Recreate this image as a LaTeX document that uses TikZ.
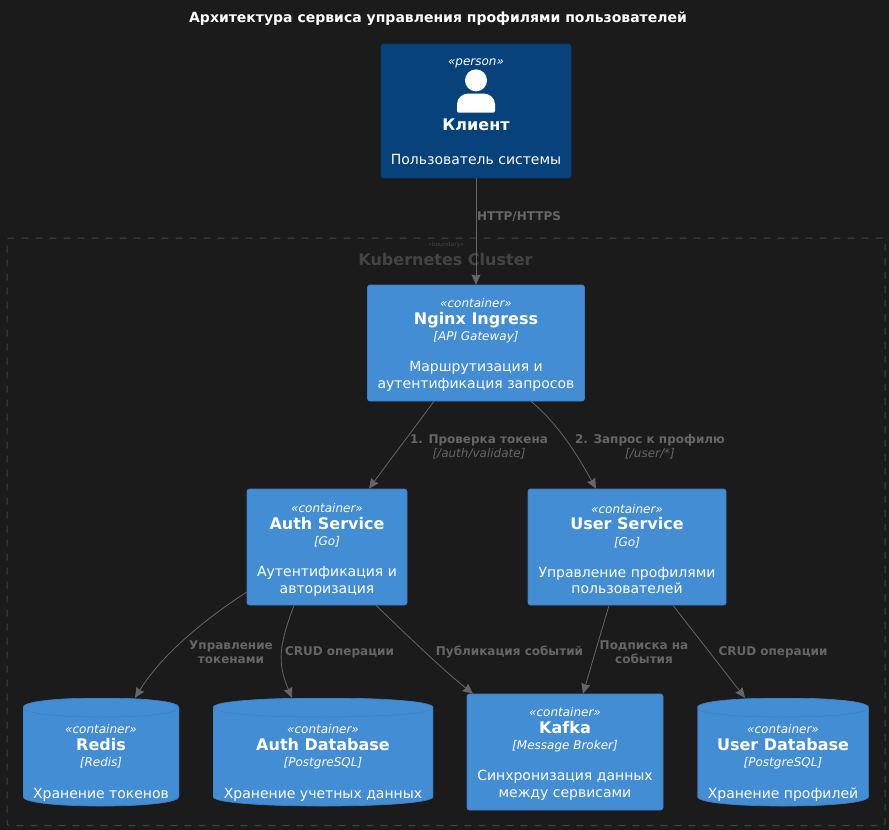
\documentclass[tikz,border=0pt]{standalone}
\usepackage{fontspec}
\setmainfont{DejaVu Sans}
\usetikzlibrary{arrows.meta,calc}
\definecolor{bgc}{HTML}{1B1B1B}
\definecolor{boxc}{HTML}{438DD5}
\definecolor{boxl}{HTML}{3C7FC0}
\definecolor{perc}{HTML}{08427B}
\definecolor{perl}{HTML}{073B6F}
\definecolor{linec}{HTML}{666666}
\definecolor{bndc}{HTML}{444444}
\newcommand{\cst}[1]{{\fontsize{12}{16.5}\selectfont\itshape #1}}
\newcommand{\cnm}[1]{{\fontsize{16}{16.5}\selectfont\bfseries #1}}
\newcommand{\lbb}[1]{{\fontsize{12}{14}\selectfont\bfseries #1}}
\newcommand{\lbi}[1]{{\fontsize{12}{14}\selectfont\itshape #1}}
\newcommand{\tpad}[1]{\rule{0pt}{#1pt}}
\tikzset{
  boxbase/.style={inner sep=0pt,text=white,align=center,font=\fontsize{14}{16.5}\selectfont},
  contbox/.style={boxbase,draw=boxl,fill=boxc,rounded corners=2.5pt,line width=.7pt},
  persbox/.style={boxbase,draw=perl,fill=perc,rounded corners=2.5pt,line width=.7pt},
  cylbox/.style={boxbase,path picture={
    \path (path picture bounding box.north west) coordinate (tl) (path picture bounding box.south east) coordinate (br);
    \fill[boxc,draw=boxl,line width=.7pt] let \p1=(tl),\p2=(br) in
      (\x1,\y1-9.5pt) .. controls (\x1,\y1-3pt) and (\x1+.25*\x2-.25*\x1,\y1) .. (.5*\x1+.5*\x2,\y1)
      .. controls (\x1+.75*\x2-.75*\x1,\y1) and (\x2,\y1-3pt) .. (\x2,\y1-9.5pt)
      -- (\x2,\y2+9.5pt) .. controls (\x2,\y2+3pt) and (\x1+.75*\x2-.75*\x1,\y2) .. (.5*\x1+.5*\x2,\y2)
      .. controls (\x1+.25*\x2-.25*\x1,\y2) and (\x1,\y2+3pt) .. (\x1,\y2+9.5pt) -- cycle;
    \draw[boxl,line width=.5pt] let \p1=(tl),\p2=(br) in
      (\x1,\y1-9.5pt) .. controls (\x1,\y1-16pt) and (\x1+.25*\x2-.25*\x1,\y1-19pt) .. (.5*\x1+.5*\x2,\y1-19pt)
      .. controls (\x1+.75*\x2-.75*\x1,\y1-19pt) and (\x2,\y1-16pt) .. (\x2,\y1-9.5pt);
  }},
  link/.style={draw=linec,line width=.8pt,-{Stealth[length=10pt,width=9pt,inset=1pt,fill=linec]}},
  rel/.style={inner sep=0pt,text=linec,align=center,font=\fontsize{12}{14}\selectfont},
  bnd/.style={draw=bndc,dash pattern=on 7pt off 7pt,line width=1pt,rounded corners=2.5pt,inner sep=0pt},
  ttl/.style={inner sep=0pt,text=white,font=\fontsize{14}{16}\selectfont\bfseries},
}
\begin{document}
\begin{tikzpicture}[x=1pt,y=-1pt]
\useasboundingbox[fill=bgc] (0,0) rectangle (889,830);

\node[ttl] (title) at (438,18.5) {Архитектура сервиса управления профилями пользователей};

\node[bnd,minimum width=878pt,minimum height=587.5pt] (cluster) at (446,531.75) {};
\node[inner sep=0pt,text=bndc,font=\fontsize{6}{7}\selectfont] (bstereo) at (446,244.5) {«boundary»};
\node[inner sep=0pt,text=bndc,font=\fontsize{16}{18}\selectfont\bfseries] (bname) at (445.5,260) {Kubernetes Cluster};

\node[persbox,minimum width=190pt,minimum height=134pt] (client) at (476,111) {\tpad{9}\cst{«person»}\\[48.5pt]\cnm{Клиент}\\[17.5pt]Пользователь системы};
\fill[white] ($(client.north)+(0,36.7)$) circle[radius=11pt];
\fill[white,rounded corners=1.5pt] ($(client.north)+(-19,69)$) -- ($(client.north)+(19,69)$) -- ($(client.north)+(19,62)$)
  .. controls ($(client.north)+(19,54)$) and ($(client.north)+(13,50)$) .. ($(client.north)+(7,50)$)
  -- ($(client.north)+(-7,50)$)
  .. controls ($(client.north)+(-13,50)$) and ($(client.north)+(-19,54)$) .. ($(client.north)+(-19,62)$) -- cycle;

\node[contbox,minimum width=217pt,minimum height=116pt] (nginx) at (476,343) {\tpad{13}\cst{«container»}\\\cnm{Nginx Ingress}\\\cst{[API Gateway]}\\[14.5pt]Маршрутизация и\\аутентификация запросов};
\node[contbox,minimum width=160pt,minimum height=116pt] (auth) at (327,547) {\tpad{15}\cst{«container»}\\\cnm{Auth Service}\\\cst{[Go]}\\[14.5pt]Аутентификация и\\авторизация};
\node[contbox,minimum width=198pt,minimum height=116pt] (user) at (627,547) {\tpad{13}\cst{«container»}\\\cnm{User Service}\\\cst{[Go]}\\[14.5pt]Управление профилями\\пользователей};
\node[contbox,minimum width=196pt,minimum height=116pt] (kafka) at (565,752) {\tpad{13}\cst{«container»}\\\cnm{Kafka}\\\cst{[Message Broker]}\\[14.5pt]Синхронизация данных\\между сервисами};
\node[cylbox,minimum width=156pt,minimum height=108pt] (redis) at (101,752) {\mbox{}\\[14.5pt]\cst{«container»}\\\cnm{Redis}\\\cst{[Redis]}\\[15.5pt]Хранение токенов};
\node[cylbox,minimum width=220pt,minimum height=108pt] (authdb) at (323,752) {\mbox{}\\[14.5pt]\cst{«container»}\\\cnm{Auth Database}\\\cst{[PostgreSQL]}\\[15.5pt]Хранение учетных данных};
\node[cylbox,minimum width=171pt,minimum height=108pt] (userdb) at (783,752) {\mbox{}\\[14.5pt]\cst{«container»}\\\cnm{User Database}\\\cst{[PostgreSQL]}\\[15.5pt]Хранение профилей};

\path[link] (client.south) -- (nginx.north);
\path[link] ($(nginx.south)+(-42,0)$) .. controls ($(nginx.south)+(-62,27)$) and ($(auth.north)+(64,-30)$) .. ($(auth.north)+(42,0)$);
\path[link] ($(nginx.south)+(55,0)$) .. controls ($(nginx.south)+(84,24)$) and ($(user.north)+(-47,-29)$) .. ($(user.north)+(-31,0)$);
\path[link] ($(auth.west)+(0,45)$) .. controls ($(auth.west)+(-35,68)$)  and ($(redis.north)+(64,-48)$) .. ($(redis.north)+(34,0)$);
\path[link] ($(auth.south)+(-33,0)$) .. controls ($(auth.south)+(-48,40)$) and ($(authdb.north)+(-46,-35)$) .. ($(authdb.north)+(-31,0)$);
\path[link] ($(auth.south)+(49,0)$) .. controls ($(auth.south)+(80,30)$) and ($(kafka.north)+(-120,-22)$) .. ($(kafka.north)+(-92,0)$);
\path[link] ($(user.south)+(-18,0)$) -- ($(kafka.north)+(18,0)$);
\path[link] ($(user.south)+(46,0)$) -- ($(userdb.north)+(-38,0)$);

\node[rel] (l0) at (519,217) {\lbb{HTTP/HTTPS}};
\node[rel] (l1) at (479,447) {\lbb{1. Проверка токена}\\\lbi{[/auth/validate]}};
\node[rel] (l2) at (650,447) {\lbb{2. Запрос к профилю}\\\lbi{[/user/*]}};
\node[rel] (l3) at (231,652) {\lbb{Управление}\\\lbb{токенами}};
\node[rel] (l4) at (339.5,652) {\lbb{CRUD операции}};
\node[rel] (l5) at (509.5,652) {\lbb{Публикация событий}};
\node[rel] (l6) at (644,652) {\lbb{Подписка на}\\\lbb{события}};
\node[rel] (l7) at (773,652) {\lbb{CRUD операции}};
\end{tikzpicture}
\end{document}
